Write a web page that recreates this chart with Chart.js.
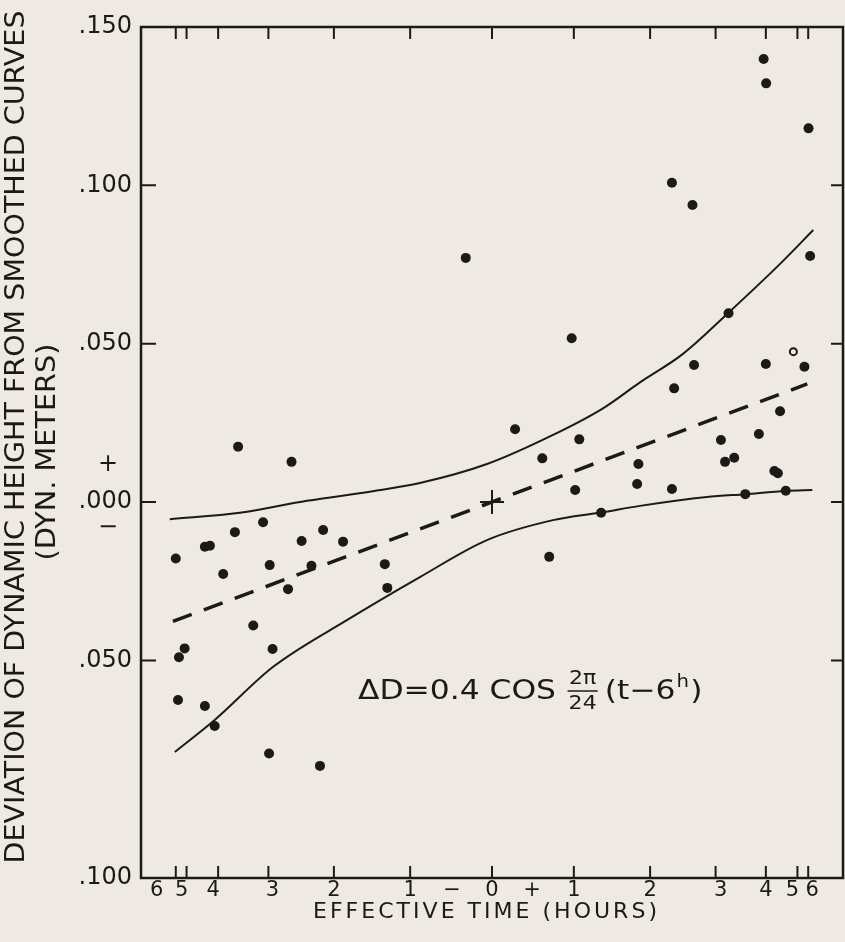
<!DOCTYPE html>
<html>
<head>
<meta charset="utf-8">
<script src="https://cdn.jsdelivr.net/npm/chart.js@4.4.1/dist/chart.umd.min.js"></script>
<style>
  html, body { margin: 0; padding: 0; background: #eeeae3; }
  canvas { display: block; }
</style>
</head>
<body>
<canvas id="devChart" width="845" height="942"></canvas>
<script>
// x axis is sin(2*pi*t/24) of the effective time t, so the cosine law plots straight
const hourTicks = [-6, -5, -4, -3, -2, -1, 0, 1, 2, 3, 4, 5, 6];
const yTicks = [0.15, 0.10, 0.05, 0.0, -0.05, -0.10];
const yTickLabels = ['.150', '.100', '.050', '.000', '.050', '.100'];

// observed deviations (x in axis units, y in dyn. meters)
const obsX = [-0.803, -0.634, -0.724, -0.813, -0.534, -0.602, -0.471, -0.908, -0.892, -1.0,
  -0.703, -0.571, -0.850, -0.339, -0.331, -0.645, -0.755, -0.972, -0.990, -0.694,
  -0.993, -0.908, -0.877, -0.705, -0.544,
  -0.083, 0.252, 0.073, 0.276, 0.159, 0.463, 0.263, 0.459, 0.345, 0.181,
  0.748, 0.639, 0.866, 0.988, 0.576, 0.911, 0.844, 0.724, 0.737, 0.766,
  0.569, 0.893, 0.904, 0.801, 0.929, 0.859, 0.867, 1.001, 0.569, 0.634, 1.006];
const obsY = [0.0175, 0.0127, -0.0064, -0.0095, -0.0088, -0.0123, -0.0125, -0.0141, -0.0138, -0.0178,
  -0.0199, -0.0201, -0.0227, -0.0196, -0.0271, -0.0275, -0.0390, -0.0462, -0.0490, -0.0464,
  -0.0625, -0.0644, -0.0707, -0.0794, -0.0833,
  0.0771, 0.0517, 0.0230, 0.0198, 0.0138, 0.0120, 0.0038, 0.0057, -0.0034, -0.0173,
  0.0596, 0.0433, 0.0436, 0.0427, 0.0359, 0.0287, 0.0215, 0.0196, 0.0127, 0.0140,
  0.0041, 0.0098, 0.0091, 0.0025, 0.0036, 0.1399, 0.1322, 0.1180, 0.1008, 0.0938, 0.0777];
const ringX = [0.953];
const ringY = [0.0475];

// dashed law ΔD = 0.4 cos(...) and the two solid limit curves
const trendX = [-1.009, 0.997];
const trendY = [-0.0377, 0.0373];
const upperX = [-1.019, -0.797, -0.585, -0.377, -0.228, -0.016, 0.193, 0.351, 0.468, 0.604, 0.747, 0.911, 1.016];
const upperY = [-0.0054, -0.0034, 0.0004, 0.0034, 0.0060, 0.0120, 0.0212, 0.0296, 0.0378, 0.0468, 0.0597, 0.0752, 0.0859];
const lowerX = [-1.003, -0.877, -0.693, -0.459, -0.228, -0.016, 0.193, 0.345, 0.468, 0.680, 0.801, 0.930, 1.013];
const lowerY = [-0.0789, -0.0688, -0.0521, -0.0373, -0.0237, -0.0120, -0.0057, -0.0033, -0.0012, 0.0016, 0.0025, 0.0035, 0.0038];

const ink = '#1c1a18';
const paper = '#eeeae3';
const FONT = '"DejaVu Sans", sans-serif';

const pts = (xs, ys) => xs.map((x, i) => ({x: x, y: ys[i]}));
const hx = h => Math.sin(Math.PI * h / 12);

function fitText(ctx, str, cx, cy, w, size, rot) {
  ctx.save();
  ctx.translate(cx, cy);
  if (rot) ctx.rotate(rot);
  ctx.font = size + 'px ' + FONT;
  ctx.scale(w / ctx.measureText(str).width, 1);
  ctx.textAlign = 'center';
  ctx.textBaseline = 'middle';
  ctx.fillText(str, 0, 0);
  ctx.restore();
}

// spaced-out lettering: keep glyph shapes, widen the gaps to reach width w
function spacedText(ctx, str, left, cy, w, size) {
  ctx.save();
  ctx.font = size + 'px ' + FONT;
  ctx.textAlign = 'left';
  ctx.textBaseline = 'middle';
  const gap = (w - ctx.measureText(str).width) / (str.length - 1);
  let px = left;
  for (const ch of str) {
    ctx.fillText(ch, px, cy);
    px += ctx.measureText(ch).width + gap;
  }
  ctx.restore();
}

const labelNudge = {'-6': -19, '-5': -5, '-4': -5, '-3': 4, '3': 5, '5': -5, '6': 4};

const axisDeco = {
  id: 'axisDeco',
  afterDraw(chart) {
    const ctx = chart.ctx, a = chart.chartArea, x = chart.scales.x, y = chart.scales.y;
    ctx.save();
    ctx.strokeStyle = ink;
    ctx.fillStyle = ink;
    ctx.lineWidth = 2.5;
    ctx.strokeRect(a.left, a.top, a.right - a.left, a.bottom - a.top);

    ctx.lineWidth = 2;
    ctx.beginPath();
    hourTicks.forEach(h => {
      const px = x.getPixelForValue(hx(h));
      ctx.moveTo(px, a.bottom); ctx.lineTo(px, a.bottom - 12);
      ctx.moveTo(px, a.top); ctx.lineTo(px, a.top + 12);
    });
    yTicks.forEach(v => {
      if (v <= -0.1) return;
      const py = y.getPixelForValue(v);
      ctx.moveTo(a.left, py); ctx.lineTo(a.left + 15, py);
      ctx.moveTo(a.right, py); ctx.lineTo(a.right - 12, py);
    });
    ctx.stroke();

    // y tick labels; the bottom .100 sits at the frame corner as in the original
    ctx.font = '24px ' + FONT;
    ctx.textAlign = 'right';
    ctx.textBaseline = 'middle';
    yTicks.forEach((v, i) => {
      const py = v <= -0.1 ? a.bottom : y.getPixelForValue(v);
      ctx.fillText(yTickLabels[i], 132, py);
    });
    const y0 = y.getPixelForValue(0);
    ctx.textAlign = 'center';
    ctx.fillText('+', 108, y0 - 37);
    ctx.fillText('\u2212', 108, y0 + 26);

    // hour labels
    ctx.font = '21px ' + FONT;
    const x0 = x.getPixelForValue(0);
    hourTicks.forEach(h => {
      const px = x.getPixelForValue(hx(h)) + (labelNudge[h] || 0);
      ctx.fillText(String(Math.abs(h)), px, a.bottom + 13);
    });
    ctx.fillText('\u2212', x0 - 40, a.bottom + 13);
    ctx.fillText('+', x0 + 40, a.bottom + 13);

    spacedText(ctx, 'EFFECTIVE TIME (HOURS)', 313, 912, 344, 22);
    fitText(ctx, 'DEVIATION OF DYNAMIC HEIGHT FROM SMOOTHED CURVES', 17, 437, 853, 27, -Math.PI / 2);
    fitText(ctx, '(DYN. METERS)', 48, 452, 217, 26, -Math.PI / 2);

    // formula, stretched a little to the width of the original lettering
    ctx.translate(358, 692);
    ctx.scale(1.16, 1);
    const fy = 0;
    ctx.textAlign = 'left';
    ctx.font = '27px ' + FONT;
    const s1 = 'ΔD=0.4 COS';
    ctx.fillText(s1, 0, fy);
    let fx = ctx.measureText(s1).width + 10;
    ctx.font = '19px ' + FONT;
    ctx.textAlign = 'center';
    ctx.fillText('2π', fx + 13, fy - 13);
    ctx.fillText('24', fx + 13, fy + 12);
    ctx.lineWidth = 1.5;
    ctx.beginPath(); ctx.moveTo(fx, fy - 1); ctx.lineTo(fx + 26, fy - 1); ctx.stroke();
    fx += 32;
    ctx.textAlign = 'left';
    ctx.font = '27px ' + FONT;
    ctx.fillText('(t\u22126', fx, fy);
    fx += ctx.measureText('(t\u22126').width + 1;
    ctx.font = '17px ' + FONT;
    ctx.fillText('h', fx, fy - 9);
    fx += ctx.measureText('h').width + 1;
    ctx.font = '27px ' + FONT;
    ctx.fillText(')', fx, fy);
    ctx.restore();
  }
};

new Chart(document.getElementById('devChart').getContext('2d'), {
  type: 'scatter',
  data: {
    datasets: [{
      data: pts(obsX, obsY),
      pointRadius: 5,
      pointBackgroundColor: ink,
      pointBorderWidth: 0
    }, {
      data: pts(ringX, ringY),
      pointRadius: 3.5,
      pointBackgroundColor: paper,
      pointBorderColor: ink,
      pointBorderWidth: 2
    }, {
      data: [{x: 0, y: 0}],
      pointStyle: 'cross',
      pointRadius: 12,
      pointBorderColor: ink,
      pointBorderWidth: 2
    }, {
      data: pts(trendX, trendY),
      showLine: true,
      borderColor: ink,
      borderWidth: 3.5,
      borderDash: [20, 13],
      pointRadius: 0
    }, {
      data: pts(upperX, upperY),
      showLine: true,
      borderColor: ink,
      borderWidth: 2,
      cubicInterpolationMode: 'monotone',
      pointRadius: 0
    }, {
      data: pts(lowerX, lowerY),
      showLine: true,
      borderColor: ink,
      borderWidth: 2,
      cubicInterpolationMode: 'monotone',
      pointRadius: 0
    }]
  },
  options: {
    responsive: false,
    animation: false,
    events: [],
    layout: {autoPadding: false, padding: {left: 141, right: 2, top: 27, bottom: 64}},
    plugins: {legend: {display: false}, tooltip: {enabled: false}},
    scales: {
      x: {type: 'linear', min: -1.11, max: 1.11, display: false},
      y: {type: 'linear', min: -0.1187, max: 0.15, display: false}
    }
  },
  plugins: [axisDeco]
});
</script>
</body>
</html>
